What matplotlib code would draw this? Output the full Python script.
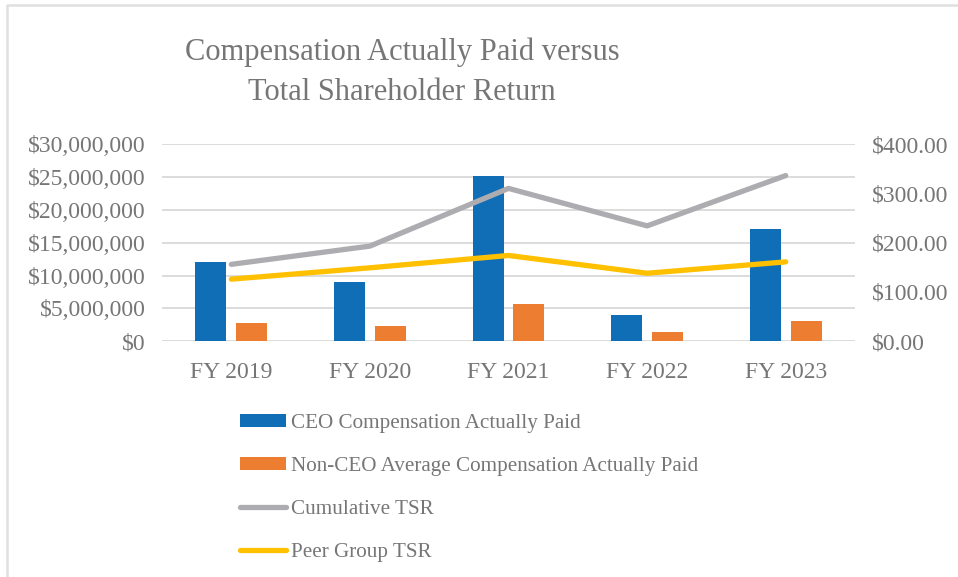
import matplotlib
matplotlib.use("Agg")
import matplotlib.pyplot as plt
import numpy as np
from matplotlib.patches import Patch
from matplotlib.lines import Line2D
from matplotlib.ticker import FuncFormatter, MultipleLocator

# ---------------------------------------------------------------------------
# Data
# ---------------------------------------------------------------------------
years = ["FY 2019", "FY 2020", "FY 2021", "FY 2022", "FY 2023"]
ceo_cap = [12_050_000, 9_000_000, 25_100_000, 4_000_000, 17_100_000]
non_ceo_cap = [2_830_000, 2_330_000, 5_670_000, 1_410_000, 3_090_000]
cumulative_tsr = [156.0, 193.0, 310.0, 234.0, 336.0]
peer_tsr = [126.0, 149.0, 174.0, 138.0, 161.0]

BLUE = "#106EB7"
ORANGE = "#ED7D31"
GREY = "#ADADB1"
YELLOW = "#FFC000"
TEXT = "#767676"
GRID = "#D9D9D9"

plt.rcParams["font.family"] = ["Liberation Serif", "DejaVu Serif"]

W, H = 958, 577
fig = plt.figure(figsize=(W / 100, H / 100), dpi=100)

# plot area in pixel coords -> figure fractions
x0, x1, ytop, ybot = 162, 855, 144, 341.3
ax = fig.add_axes([x0 / W, 1 - ybot / H, (x1 - x0) / W, (ybot - ytop) / H])
ax2 = ax.twinx()

x = np.arange(len(years))
bw = 0.224
off = 0.147
ax.bar(x - off, ceo_cap, bw, color=BLUE, zorder=3)
ax.bar(x + off, non_ceo_cap, bw, color=ORANGE, zorder=3)

ax2.plot(x, cumulative_tsr, color=GREY, lw=3.8, solid_capstyle="round", zorder=4)
ax2.plot(x, peer_tsr, color=YELLOW, lw=3.8, solid_capstyle="round", zorder=4)

ax.set_xlim(-0.5, len(years) - 0.5)
ax.set_ylim(0, 30_000_000)
ax2.set_ylim(0, 400)
ax.yaxis.set_major_locator(MultipleLocator(5_000_000))
ax2.yaxis.set_major_locator(MultipleLocator(100))
ax.yaxis.set_major_formatter(FuncFormatter(lambda v, p: f"${v:,.0f}"))
ax2.yaxis.set_major_formatter(FuncFormatter(lambda v, p: f"${v:,.2f}"))

ax.set_xticks(x)
ax.set_xticklabels(years)

ax.grid(axis="y", color=GRID, lw=1.3, zorder=0)
ax.set_axisbelow(True)
for a in (ax, ax2):
    for s in a.spines.values():
        s.set_visible(False)
    a.tick_params(length=0, labelsize=17, labelcolor=TEXT)
ax.tick_params(axis="x", pad=15)
ax.tick_params(axis="y", pad=12)
ax2.tick_params(axis="y", pad=12)

fig.text(402 / W, 1 - 72 / H, "Compensation Actually Paid versus\nTotal Shareholder Return",
         ha="center", va="center", fontsize=22, color=TEXT, linespacing=1.5)

handles = [
    Patch(facecolor=BLUE, edgecolor="none"),
    Patch(facecolor=ORANGE, edgecolor="none"),
    Line2D([], [], color=GREY, lw=3.8, solid_capstyle="round"),
    Line2D([], [], color=YELLOW, lw=3.8, solid_capstyle="round"),
]
labels = ["CEO Compensation Actually Paid",
          "Non-CEO Average Compensation Actually Paid",
          "Cumulative TSR", "Peer Group TSR"]
leg = fig.legend(handles, labels, loc="upper left",
                 bbox_to_anchor=(240 / W, 1 - 414 / H), frameon=False,
                 fontsize=15.2, labelcolor=TEXT, handlelength=2.2,
                 handleheight=0.55, handletextpad=0.2, labelspacing=1.13,
                 borderpad=0, borderaxespad=0)

# chart border: only the top and left edges are inside the picture
fig.add_artist(Line2D([7 / W, 7 / W, 1], [0, 1 - 5 / H, 1 - 5 / H],
                      transform=fig.transFigure, color="#E0E0E0", lw=1.8))

fig.savefig("out.png", dpi=100, facecolor="white")
